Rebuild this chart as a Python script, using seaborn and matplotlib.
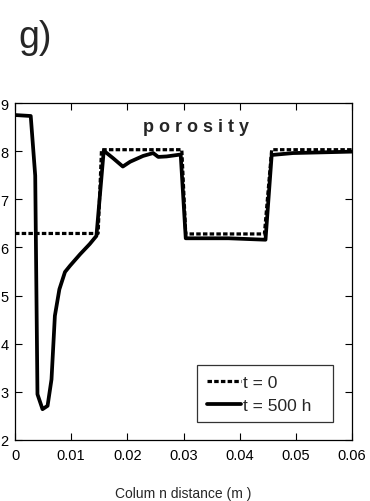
import matplotlib
matplotlib.use("Agg")
import matplotlib.pyplot as plt
import seaborn as sns
import pandas as pd

# initial porosity (t = 0)
x_init = [0.0, 0.0148, 0.0154, 0.0297, 0.0304, 0.0444, 0.0457, 0.06]
phi_init = [0.629, 0.629, 0.803, 0.803, 0.628, 0.628, 0.803, 0.803]

# porosity after 500 h
x_500 = [0.0, 0.0028, 0.0036, 0.0040, 0.0049, 0.0058, 0.0065, 0.0071, 0.0079,
         0.0089, 0.0098, 0.0116, 0.0133, 0.0145, 0.0158, 0.0175, 0.0192,
         0.0205, 0.0228, 0.0246, 0.0255, 0.0270, 0.0295, 0.0304, 0.0380,
         0.0446, 0.0457, 0.0495, 0.0600]
phi_500 = [0.875, 0.873, 0.749, 0.295, 0.264, 0.271, 0.326, 0.458, 0.513,
           0.549, 0.562, 0.586, 0.607, 0.624, 0.801, 0.785, 0.768,
           0.778, 0.790, 0.796, 0.788, 0.789, 0.793, 0.619, 0.619,
           0.616, 0.792, 0.796, 0.799]

labels = ["t = 0", "t = 500 h"]
x_ticks = [0, 0.01, 0.02, 0.03, 0.04, 0.05, 0.06]
x_ticklabels = ["0", "0.01", "0.02", "0.03", "0.04", "0.05", "0.06"]
y_ticks = [0.2, 0.3, 0.4, 0.5, 0.6, 0.7, 0.8, 0.9]
# only the last digit of each y label is visible in the source figure
y_ticklabels = ["2", "3", "4", "5", "6", "7", "8", "9"]

sns.set_style("ticks")
plt.rcParams['font.family'] = ['Liberation Sans', 'DejaVu Sans']

fig = plt.figure(figsize=(3.7, 5.02), dpi=100)
W, H = 370, 502
ax = fig.add_axes([15 / W, 1 - 441 / H, 337 / W, 337 / H])

df0 = pd.DataFrame({"x": x_init, "phi": phi_init})
df1 = pd.DataFrame({"x": x_500, "phi": phi_500})
sns.lineplot(data=df0, x="x", y="phi", ax=ax, color="black", lw=2.3,
             linestyle=(0, (1.4, 0.7)), label=labels[0], sort=False)
sns.lineplot(data=df1, x="x", y="phi", ax=ax, color="black", lw=2.7,
             label=labels[1], sort=False)

ax.set_xlim(0, 0.06)
ax.set_ylim(0.2, 0.9)
ax.set_xticks(x_ticks)
ax.set_xticklabels(x_ticklabels)
ax.set_yticks(y_ticks)
ax.set_yticklabels(y_ticklabels)
ax.tick_params(direction="in", top=True, right=True, length=5, width=0.8,
               labelsize=10.5, colors="black")
ax.tick_params(axis="x", pad=6)
ax.tick_params(axis="y", pad=4.5)
for s in ax.spines.values():
    s.set_color("black")
    s.set_linewidth(0.9)
    s.set_visible(True)

ax.set_xlabel("Colum n distance (m )", fontsize=10, labelpad=17)
ax.set_ylabel("")

ax.text(0.0322, 0.852, "p o r o s i t y", fontsize=13, fontweight="bold",
        ha="center", va="center")

leg = ax.legend(loc="lower left", bbox_to_anchor=(0.54, 0.053, 0.404, 0.178),
                mode="expand", frameon=True, fancybox=False, fontsize=12.5,
                handlelength=2.0, handletextpad=0.1, borderpad=0.55,
                labelspacing=0.45, borderaxespad=0)
leg.get_frame().set_edgecolor("black")
leg.get_frame().set_linewidth(0.9)

fig.text(18 / W, 1 - 38 / H, "g)", fontsize=27, ha="left", va="center")

fig.savefig("out.png", dpi=100)
